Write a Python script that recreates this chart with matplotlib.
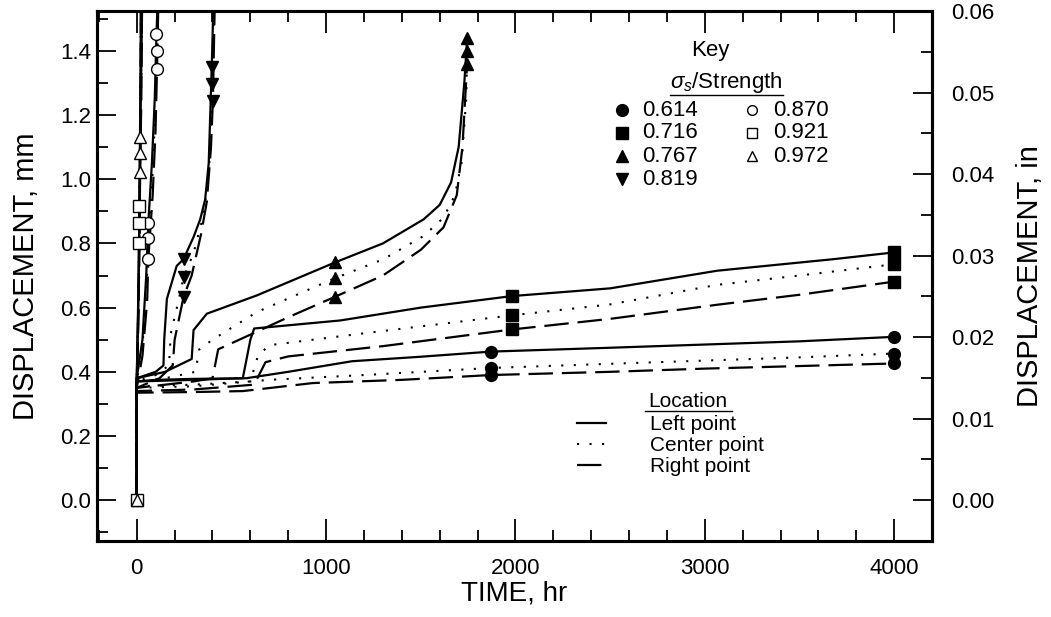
import numpy as np
import matplotlib.pyplot as plt
from matplotlib.ticker import MultipleLocator

plt.rcParams['font.family'] = ['Liberation Sans', 'DejaVu Sans']
plt.rcParams['mathtext.fontset'] = 'custom'
plt.rcParams['mathtext.rm'] = 'Liberation Sans'
plt.rcParams['mathtext.it'] = 'Liberation Sans:italic'

# ---- data (time in hr, displacement in mm) ----
# sigma_s / strength = 0.614
t_614_L = [0, 0, 100, 300, 578, 800, 1137, 1500, 1871, 2500, 3000, 3500, 4000]
d_614_L = [0, 0.37, 0.375, 0.378, 0.38, 0.40, 0.433, 0.447, 0.463, 0.475, 0.485, 0.495, 0.509]
t_614_C = [0, 0, 300, 700, 1200, 1871, 2500, 3000, 3500, 4000]
d_614_C = [0, 0.35, 0.355, 0.375, 0.39, 0.412, 0.425, 0.435, 0.445, 0.457]
t_614_R = [0, 0, 300, 560, 930, 1400, 1871, 2500, 3000, 3500, 4000]
d_614_R = [0, 0.335, 0.337, 0.34, 0.365, 0.375, 0.39, 0.40, 0.41, 0.418, 0.426]
mk_614_t = [1871, 1871, 1871, 4000, 4000, 4000]
mk_614_d = [0.463, 0.412, 0.39, 0.509, 0.457, 0.426]

# 0.716
t_716_L = [0, 0, 300, 560, 600, 620, 1075, 1500, 1982, 2500, 3066, 3681, 4000]
d_716_L = [0, 0.37, 0.375, 0.38, 0.50, 0.535, 0.56, 0.60, 0.636, 0.66, 0.715, 0.751, 0.772]
t_716_C = [0, 0, 300, 600, 640, 700, 1200, 1982, 2500, 3066, 3500, 4000]
d_716_C = [0, 0.355, 0.36, 0.37, 0.45, 0.483, 0.52, 0.576, 0.61, 0.671, 0.70, 0.735]
t_716_R = [0, 0, 300, 620, 680, 800, 1300, 1982, 2500, 3066, 3500, 4000]
d_716_R = [0, 0.34, 0.345, 0.36, 0.43, 0.448, 0.48, 0.532, 0.565, 0.609, 0.64, 0.681]
mk_716_t = [1982, 1982, 1982, 4000, 4000, 4000]
mk_716_d = [0.636, 0.576, 0.532, 0.772, 0.735, 0.681]

# 0.767
t_767_L = [0, 0, 150, 290, 300, 370, 634, 1048, 1300, 1515, 1600, 1660, 1700, 1730, 1745]
d_767_L = [0, 0.38, 0.40, 0.44, 0.53, 0.581, 0.638, 0.741, 0.80, 0.875, 0.92, 0.99, 1.10, 1.30, 1.44]
t_767_C = [0, 0, 150, 310, 330, 400, 634, 1048, 1300, 1515, 1620, 1680, 1715, 1740, 1745]
d_767_C = [0, 0.37, 0.38, 0.40, 0.47, 0.50, 0.586, 0.692, 0.75, 0.823, 0.88, 0.95, 1.05, 1.25, 1.40]
t_767_R = [0, 0, 300, 400, 430, 634, 800, 1048, 1300, 1500, 1620, 1690, 1720, 1745]
d_767_R = [0, 0.35, 0.37, 0.38, 0.47, 0.525, 0.57, 0.634, 0.70, 0.78, 0.85, 0.95, 1.10, 1.36]
mk_767_t = [1048, 1048, 1048, 1745, 1745, 1745]
mk_767_d = [0.741, 0.692, 0.634, 1.44, 1.40, 1.36]

# 0.819
t_819_L = [0, 0, 100, 141, 145, 159, 211, 247, 300, 335, 361, 380, 396, 405]
d_819_L = [0, 0.38, 0.40, 0.42, 0.50, 0.627, 0.730, 0.751, 0.82, 0.875, 0.936, 1.05, 1.35, 1.55]
t_819_C = [0, 0, 100, 170, 180, 220, 247, 300, 340, 370, 390, 400, 410]
d_819_C = [0, 0.37, 0.39, 0.42, 0.52, 0.62, 0.694, 0.77, 0.86, 0.96, 1.10, 1.297, 1.55]
t_819_R = [0, 0, 120, 190, 200, 247, 290, 340, 370, 392, 402, 412]
d_819_R = [0, 0.35, 0.38, 0.42, 0.50, 0.633, 0.70, 0.83, 0.93, 1.10, 1.245, 1.55]
mk_819_t = [247, 247, 247, 396, 400, 402]
mk_819_d = [0.751, 0.694, 0.633, 1.35, 1.297, 1.245]

# 0.870
t_870_L = [0, 0, 30, 50, 61, 80, 95, 104, 110]
d_870_L = [0, 0.38, 0.50, 0.70, 0.864, 1.05, 1.25, 1.451, 1.55]
t_870_C = [0, 0, 30, 52, 61, 82, 97, 106, 112]
d_870_C = [0, 0.37, 0.48, 0.66, 0.818, 1.00, 1.20, 1.400, 1.55]
t_870_R = [0, 0, 30, 55, 61, 84, 99, 107, 114]
d_870_R = [0, 0.35, 0.45, 0.62, 0.751, 0.95, 1.15, 1.343, 1.55]
mk_870_t = [0, 61, 61, 61, 104, 106, 107]
mk_870_d = [0, 0.864, 0.818, 0.751, 1.451, 1.400, 1.343]

# 0.921
t_921_L = [0, 0, 8, 14, 18, 22]
d_921_L = [0, 0.38, 0.60, 0.915, 1.20, 1.55]
t_921_C = [0, 0, 8, 14, 18, 22]
d_921_C = [0, 0.37, 0.58, 0.865, 1.15, 1.55]
t_921_R = [0, 0, 8, 14, 18, 22]
d_921_R = [0, 0.35, 0.55, 0.80, 1.10, 1.55]
mk_921_t = [0, 14, 14, 14]
mk_921_d = [0, 0.915, 0.865, 0.80]

# 0.972
t_972_L = [0, 0, 10, 18, 24, 28]
d_972_L = [0, 0.38, 0.70, 1.132, 1.35, 1.55]
t_972_C = [0, 0, 10, 18, 24, 28]
d_972_C = [0, 0.37, 0.66, 1.081, 1.30, 1.55]
t_972_R = [0, 0, 10, 18, 24, 28]
d_972_R = [0, 0.35, 0.62, 1.024, 1.25, 1.55]
mk_972_t = [0, 18, 18, 18]
mk_972_d = [0, 1.132, 1.081, 1.024]

levels = ['0.614', '0.716', '0.767', '0.819', '0.870', '0.921', '0.972']
markers = ['o', 's', '^', 'v', 'o', 's', '^']
filled = [True, True, True, True, False, False, False]
curves = [
    (t_614_L, d_614_L, t_614_C, d_614_C, t_614_R, d_614_R, mk_614_t, mk_614_d),
    (t_716_L, d_716_L, t_716_C, d_716_C, t_716_R, d_716_R, mk_716_t, mk_716_d),
    (t_767_L, d_767_L, t_767_C, d_767_C, t_767_R, d_767_R, mk_767_t, mk_767_d),
    (t_819_L, d_819_L, t_819_C, d_819_C, t_819_R, d_819_R, mk_819_t, mk_819_d),
    (t_870_L, d_870_L, t_870_C, d_870_C, t_870_R, d_870_R, mk_870_t, mk_870_d),
    (t_921_L, d_921_L, t_921_C, d_921_C, t_921_R, d_921_R, mk_921_t, mk_921_d),
    (t_972_L, d_972_L, t_972_C, d_972_C, t_972_R, d_972_R, mk_972_t, mk_972_d),
]

solid = dict(color='black', lw=1.6, ls='-')
dotted = dict(color='black', lw=1.5, ls=(0, (1, 5)))
dashed = dict(color='black', lw=1.6, ls=(0, (11, 4)))

fig = plt.figure(figsize=(10.51, 6.17), dpi=100)
ax = fig.add_axes([97 / 1051, 76 / 617, 835 / 1051, 530 / 617])

for (tL, dL, tC, dC, tR, dR, mt, md), m, f in zip(curves, markers, filled):
    ax.plot(tL, dL, **solid)
    ax.plot(tC, dC, **dotted)
    ax.plot(tR, dR, **dashed)
    ax.plot(mt, md, ls='none', marker=m, ms=8.5, mec='black', mew=1.0,
            mfc='black' if f else 'white', zorder=5)

ax.set_xlim(-210, 4200)
ax.set_ylim(-0.127, 1.524)
ax.xaxis.set_major_locator(MultipleLocator(1000))
ax.xaxis.set_minor_locator(MultipleLocator(200))
ax.yaxis.set_major_locator(MultipleLocator(0.2))
ax.yaxis.set_minor_locator(MultipleLocator(0.1))
ax.yaxis.set_major_formatter(plt.FormatStrFormatter('%.1f'))
ax.tick_params(which='both', direction='in', top=True, labelsize=16, width=1.3)
ax.tick_params(which='major', length=14)
ax.tick_params(which='minor', length=8)
ax.tick_params(axis='x', which='major', length=16, pad=12)
ax.tick_params(axis='y', pad=4)
for s in ax.spines.values():
    s.set_linewidth(2.2)

ax.set_xlabel('TIME, hr', fontsize=20)
ax.xaxis.set_label_coords(0.5, -0.075)
ax.set_ylabel('DISPLACEMENT, mm', fontsize=21)
ax.yaxis.set_label_coords(-0.068, 0.5)

ax2 = ax.twinx()
ax2.set_ylim(-0.127 / 25.4, 1.524 / 25.4)
ax2.yaxis.set_major_locator(MultipleLocator(0.01))
ax2.yaxis.set_minor_locator(MultipleLocator(0.005))
ax2.yaxis.set_major_formatter(plt.FormatStrFormatter('%.2f'))
ax2.tick_params(which='both', direction='in', labelsize=16, width=1.3, pad=14)
ax2.tick_params(which='major', length=14)
ax2.tick_params(which='minor', length=8)
ax2.set_ylabel('DISPLACEMENT, in', fontsize=21)
ax2.yaxis.set_label_coords(1.100, 0.5)
for s in ax2.spines.values():
    s.set_linewidth(2.2)

# ---- key (stress level) ----
tr = ax.transAxes
ax.text(0.735, 0.926, 'Key', transform=tr, ha='center', va='center', fontsize=16)
ax.text(0.754, 0.866, r'$\sigma_s$/Strength', transform=tr, ha='center', va='center', fontsize=16)
ax.plot([0.686, 0.822], [0.842, 0.842], transform=tr, color='black', lw=1)
rows = [0.813, 0.770, 0.726, 0.683]
for i, (lab, m, f) in enumerate(zip(levels, markers, filled)):
    if i < 4:
        xm, xt, y = 0.629, 0.653, rows[i]
    else:
        xm, xt, y = 0.784, 0.810, rows[i - 4]
    ax.plot([xm], [y], transform=tr, ls='none', marker=m, ms=8.5 if f else 7,
            mec='black', mew=1.0, mfc='black' if f else 'white')
    ax.text(xt, y, lab, transform=tr, ha='left', va='center', fontsize=16)

# ---- key (location) ----
ax.text(0.708, 0.252, 'Location', transform=tr, ha='center', va='baseline', fontsize=15)
ax.plot([0.656, 0.760], [0.2455, 0.2455], transform=tr, color='black', lw=1)
loc_rows = [0.2094, 0.1698, 0.1302]
for y, lab, sty in zip(loc_rows, ['Left point', 'Center point', 'Right point'],
                       [solid, dotted, dashed]):
    ax.plot([0.575, 0.610], [y + 0.014, y + 0.014], transform=tr, **sty)
    ax.text(0.662, y, lab, transform=tr, ha='left', va='baseline', fontsize=15)

fig.savefig('out.png', dpi=100)
